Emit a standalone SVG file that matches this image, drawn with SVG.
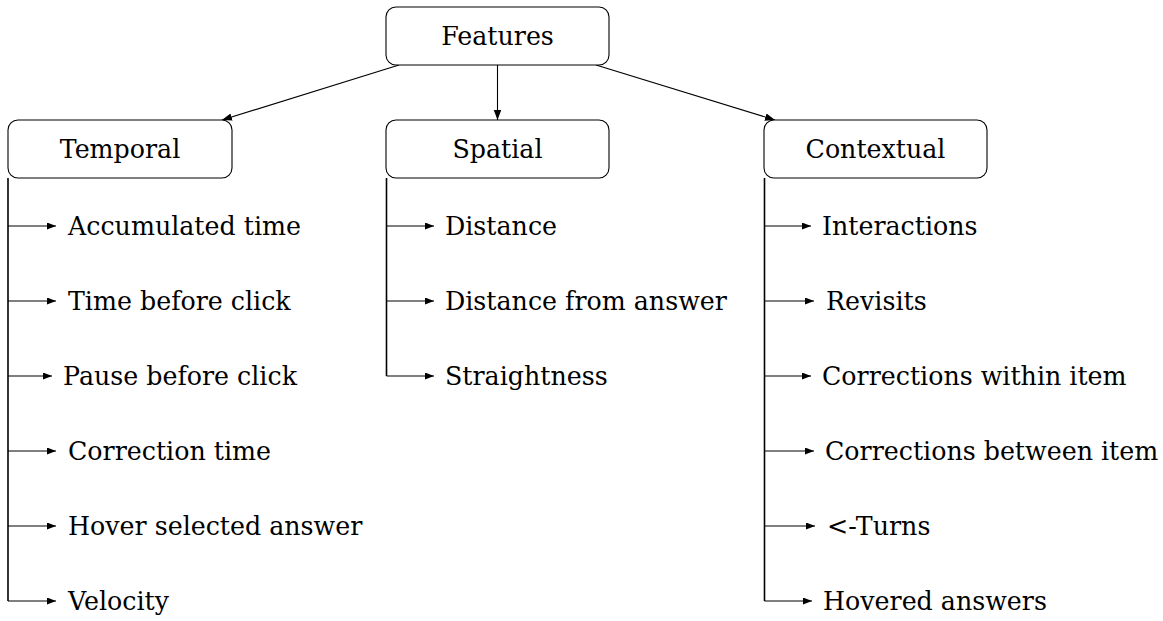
<svg xmlns="http://www.w3.org/2000/svg" width="1163" height="621" viewBox="0 0 1163 621">
<style>
.box{fill:#fff;stroke:#000;stroke-width:1.1}
.t{font-family:"DejaVu Serif","Liberation Serif",serif;font-size:25.3px;fill:#000}
.c{text-anchor:middle}
.trunk{fill:none;stroke:#000;stroke-width:1.6}
.br{fill:none;stroke:#000;stroke-width:1.1}
.ed{fill:none;stroke:#000;stroke-width:1.1}
</style>
<defs>
<marker id="ah" markerUnits="userSpaceOnUse" markerWidth="11" markerHeight="9" refX="9" refY="3.5" orient="auto">
<path d="M0,0 L9,3.5 L0,7 z" fill="#000"/>
</marker>
<marker id="ah2" markerUnits="userSpaceOnUse" markerWidth="12" markerHeight="10" refX="10" refY="3.75" orient="auto">
<path d="M0,0 L10,3.75 L0,7.5 z" fill="#000"/>
</marker>
</defs>
<g id="connectors">
<path class="ed" d="M399,65 L222,120" marker-end="url(#ah2)"/>
<path class="ed" d="M497.5,65 L497.5,120" marker-end="url(#ah2)"/>
<path class="ed" d="M596,65 L775,120" marker-end="url(#ah2)"/>
<path class="trunk" d="M8,178 L8,601"/>
<path class="trunk" d="M386.5,178 L386.5,376"/>
<path class="trunk" d="M764.5,178 L764.5,601"/>
<path class="br" d="M8,226 H56" marker-end="url(#ah)"/>
<path class="br" d="M8,301 H56" marker-end="url(#ah)"/>
<path class="br" d="M8,376 H52" marker-end="url(#ah)"/>
<path class="br" d="M8,451 H56" marker-end="url(#ah)"/>
<path class="br" d="M8,526 H56" marker-end="url(#ah)"/>
<path class="br" d="M8,601 H56" marker-end="url(#ah)"/>
<path class="br" d="M386.5,226 H434" marker-end="url(#ah)"/>
<path class="br" d="M386.5,301 H434" marker-end="url(#ah)"/>
<path class="br" d="M386.5,376 H434" marker-end="url(#ah)"/>
<path class="br" d="M764.5,226 H811" marker-end="url(#ah)"/>
<path class="br" d="M764.5,301 H814" marker-end="url(#ah)"/>
<path class="br" d="M764.5,376 H811" marker-end="url(#ah)"/>
<path class="br" d="M764.5,451 H814" marker-end="url(#ah)"/>
<path class="br" d="M764.5,526 H815" marker-end="url(#ah)"/>
<path class="br" d="M764.5,601 H812" marker-end="url(#ah)"/>
</g>
<g id="features"><rect class="box" x="386" y="7" width="223" height="58" rx="10"/><text class="t c" x="497.5" y="45">Features</text></g>
<g id="temporal"><rect class="box" x="8" y="120" width="224" height="58" rx="10"/><text class="t c" x="120" y="158">Temporal</text></g>
<g id="spatial"><rect class="box" x="386" y="120" width="223" height="58" rx="10"/><text class="t c" x="497.5" y="158">Spatial</text></g>
<g id="contextual"><rect class="box" x="764" y="120" width="223" height="58" rx="10"/><text class="t c" x="875.5" y="158">Contextual</text></g>
<g id="accumulated-time"><text class="t" x="68" y="235">Accumulated time</text></g>
<g id="time-before-click"><text class="t" x="68" y="310">Time before click</text></g>
<g id="pause-before-click"><text class="t" x="63" y="385">Pause before click</text></g>
<g id="correction-time"><text class="t" x="68" y="460">Correction time</text></g>
<g id="hover-selected-answer"><text class="t" x="68" y="535">Hover selected answer</text></g>
<g id="velocity"><text class="t" x="68" y="610">Velocity</text></g>
<g id="distance"><text class="t" x="445" y="235">Distance</text></g>
<g id="distance-from-answer"><text class="t" x="445" y="310">Distance from answer</text></g>
<g id="straightness"><text class="t" x="445" y="385">Straightness</text></g>
<g id="interactions"><text class="t" x="822" y="235">Interactions</text></g>
<g id="revisits"><text class="t" x="826" y="310">Revisits</text></g>
<g id="corrections-within-item"><text class="t" x="822" y="385">Corrections within item</text></g>
<g id="corrections-between-item"><text class="t" x="825" y="460">Corrections between item</text></g>
<g id="turns"><text class="t" x="827" y="535">&lt;-Turns</text></g>
<g id="hovered-answers"><text class="t" x="823" y="610">Hovered answers</text></g>
</svg>
